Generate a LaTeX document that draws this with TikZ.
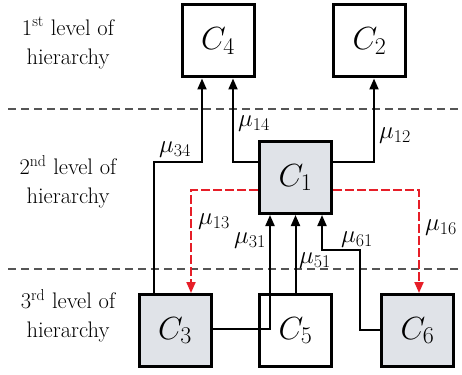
\RequirePackage{fix-cm}
\documentclass[tikz,border=0pt]{standalone}
\usetikzlibrary{arrows.meta}
\DeclareMathSizes{32}{32}{24}{18}
\DeclareMathSizes{25}{25}{18}{13}
\definecolor{boxgray}{RGB}{224,227,232}
\definecolor{arrred}{RGB}{230,30,40}
\definecolor{levgray}{RGB}{85,85,85}
\newcommand\Clab[1]{\fontsize{32}{32}\selectfont$C_{#1}$}
\newcommand\Mlab[1]{\fontsize{25}{25}\selectfont$\mu_{#1}$}
\tikzset{
  cbox/.style={draw=black, line width=3pt, minimum width=72pt, minimum height=72pt, inner sep=0pt},
  gbox/.style={cbox, fill=boxgray},
  arr/.style={line width=2pt, -{Triangle[length=11pt,width=9pt]}},
  rarr/.style={line width=2pt, arrred, dash pattern=on 9pt off 3pt, -{Triangle[length=11pt,width=9pt]}},
  lev/.style={levgray, line width=1.2pt, dash pattern=on 8pt off 5pt},
  levtxt/.style={align=center, font=\fontsize{22.5}{29}\selectfont, inner sep=0pt},
  mlab/.style={inner sep=0pt}
}
\begin{document}
\begin{tikzpicture}[x=1pt, y=-1pt]
\useasboundingbox (0,0) rectangle (462,374);
% level separators
\coordinate (l1a) at (8,109);
\coordinate (l1b) at (462,109);
\coordinate (l2a) at (8,269);
\coordinate (l2b) at (462,269);
\draw[lev] (l1a) -- (l1b);
\draw[lev] (l2a) -- (l2b);
% level texts
\node[levtxt] (t1) at (68,43) {1\textsuperscript{st} level of\\hierarchy};
\node[levtxt] (t2) at (68,182) {2\textsuperscript{nd} level of\\hierarchy};
\node[levtxt] (t3) at (68,316) {3\textsuperscript{rd} level of\\hierarchy};
% boxes
\node[cbox] (C4) at (218,41) {\Clab{4}};
\node[cbox] (C2) at (369.5,41) {\Clab{2}};
\node[gbox] (C1) at (295.5,177.5) {\Clab{1}};
\node[gbox] (C3) at (175,330.5) {\Clab{3}};
\node[cbox] (C5) at (295.5,330.5) {\Clab{5}};
\node[gbox] (C6) at (417.5,330.5) {\Clab{6}};
% bend points
\coordinate (k34a) at (154,162);
\coordinate (k34b) at (202,162);
\coordinate (k14) at (233,162);
\coordinate (k12) at (374,162);
\coordinate (k13) at (191,190);
\coordinate (k16) at (419,190);
\coordinate (k31) at (270,329);
\coordinate (k61a) at (360,330);
\coordinate (k61b) at (360,250);
\coordinate (k61c) at (322,250);
% connectors
\draw[arr] (C3.north -| k34a) -- (k34a) -- (k34b) -- (k34b |- C4.south);
\draw[arr] (C1.west |- k14) -- (k14) -- (k14 |- C4.south);
\draw[arr] (C1.east |- k12) -- (k12) -- (k12 |- C2.south);
\draw[rarr] (C1.west |- k13) -- (k13) -- (k13 |- C3.north);
\draw[rarr] (C1.east |- k16) -- (k16) -- (k16 |- C6.north);
\draw[arr] (C3.east |- k31) -- (k31) -- (k31 |- C1.south);
\draw[arr] (C5.north) -- (C1.south);
\draw[arr] (C6.west |- k61a) -- (k61a) -- (k61b) -- (k61c) -- (k61c |- C1.south);
% labels
\node[mlab] (m34) at (175,150) {\Mlab{34}};
\node[mlab] (m14) at (254,124) {\Mlab{14}};
\node[mlab] (m12) at (395,136) {\Mlab{12}};
\node[mlab] (m13) at (214,222) {\Mlab{13}};
\node[mlab] (m16) at (441,228) {\Mlab{16}};
\node[mlab] (m31) at (250,241) {\Mlab{31}};
\node[mlab] (m51) at (315,261) {\Mlab{51}};
\node[mlab] (m61) at (357,240) {\Mlab{61}};
\end{tikzpicture}
\end{document}
